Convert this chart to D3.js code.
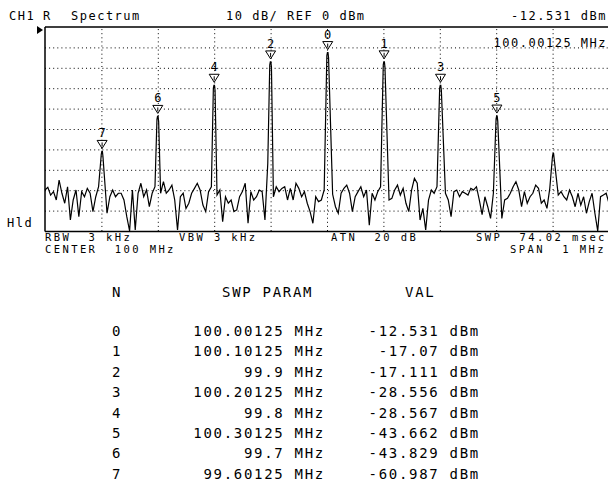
<!DOCTYPE html>
<html><head><meta charset="utf-8">
<script src="https://cdn.jsdelivr.net/npm/d3@7"></script>
<style>
body{margin:0;background:#fff}
svg{display:block}
text{white-space:pre}
.t{font-family:"DejaVu Sans Mono",monospace;font-size:12px;letter-spacing:1.5px;fill:#000}
.ti{font-family:"DejaVu Sans Mono",monospace;font-size:10.5px;letter-spacing:2.4px;fill:#000}
.tb{font-family:"DejaVu Sans Mono",monospace;font-size:14px;letter-spacing:1.7px;fill:#000}
</style></head><body><script>
// ---- data ----
const xTicks = [99.6, 99.7, 99.8, 99.9, 100.0, 100.1, 100.2, 100.3, 100.4];
const yTicks = [-10, -20, -30, -40, -50, -60, -70, -80, -90];
const markerN = [0, 1, 2, 3, 4, 5, 6, 7];
const markerFreq = [100.00125, 100.10125, 99.9, 100.20125, 99.8, 100.30125, 99.7, 99.60125];
const markerVal = [-12.531, -17.07, -17.111, -28.556, -28.567, -43.662, -43.829, -60.987];
const spurFreq = [100.40125];
const spurVal = [-62];
// noise floor read every 5 kHz from 99.5 to 100.5 MHz
const noiseDbm = [
-79.9,-78.6,-82.4,-80.7,-84.8,-75.0,-81.5,-86.4,-78.3,-94.6,
-84.8,-79.9,-93.0,-80.7,-83.2,-79.1,-81.5,-90.5,-83.2,-78.3,
-75.8,-79.9,-91.3,-83.2,-79.9,-83.2,-81.5,-81.5,-84.8,-93.0,
-100,-79.9,-99.5,-81.5,-76.6,-83.2,-79.9,-88.1,-81.5,-78.3,
-70.1,-81.5,-75.8,-81.5,-79.9,-77.5,-84.8,-99.5,-83.2,-81.5,
-89.0,-86.4,-81.5,-79.1,-76.6,-79.9,-87.3,-90.5,-80.7,-78.3,
-72.0,-82.4,-79.9,-95.4,-83.2,-86.4,-84.8,-90.5,-89.7,-83.2,
-80.7,-76.6,-96.2,-80.7,-84.8,-83.2,-79.9,-80.7,-94.6,-66.8,
-70.0,-83.2,-78.3,-80.7,-79.1,-78.3,-84.8,-79.1,-84.8,-76.6,
-79.1,-83.2,-80.7,-86.4,-90.5,-96.2,-83.2,-85.6,-84.8,-79.9,
-75.0,-76.6,-82.0,-88.1,-91.3,-81.5,-79.1,-77.5,-81.5,-90.5,
-83.2,-80.7,-78.3,-83.2,-79.9,-97.1,-81.5,-84.8,-80.7,-78.3,
-72.0,-81.5,-84.8,-84.0,-79.9,-77.5,-82.4,-79.1,-86.4,-90.5,
-79.9,-74.2,-76.6,-94.6,-88.9,-99.5,-84.8,-79.9,-81.5,-78.3,
-74.0,-79.9,-81.5,-84.8,-93.0,-80.7,-79.9,-83.2,-80.7,-81.5,
-82.4,-79.1,-79.9,-78.3,-84.8,-92.0,-83.2,-88.1,-93.8,-81.5,
-80.0,-88.1,-93.8,-84.8,-84.0,-81.5,-78.3,-75.8,-79.9,-88.1,
-80.7,-86.4,-83.2,-81.5,-77.5,-79.1,-86.4,-84.8,-88.9,-79.1,
-78.0,-70.1,-82.4,-80.7,-83.2,-84.8,-79.9,-83.2,-88.1,-81.5,
-87.3,-83.2,-91.3,-85.6,-81.5,-91.3,-100,-83.2,-82.4,-81.5,
-86.4];
const headerLeft = ["CH1", "R", "Spectrum"];
const headerMid = "10 dB/ REF 0 dBm";
const headerRight = "-12.531 dBm";
const activeFreq = "100.00125 MHz";
const tableHead = ["N", "SWP PARAM", "VAL"];

// ---- layout ----
const W = 608, H = 485;
const svg = d3.select("body").append("svg").attr("width", W).attr("height", H);
const x = d3.scaleLinear().domain([99.5, 100.5]).range([45, 609]);
const y = d3.scaleLinear().domain([0, -100]).range([27, 231]).clamp(true);

// grid
const gx = svg.append("g").attr("transform", "translate(0,231)")
  .call(d3.axisBottom(x).tickValues(xTicks).tickSize(-204).tickFormat(""));
const gy = svg.append("g").attr("transform", "translate(45,0)")
  .call(d3.axisLeft(y).tickValues(yTicks).tickSize(-564).tickFormat(""));
[gx, gy].forEach(g => {
  g.select(".domain").remove();
  g.selectAll(".tick line").attr("stroke", "#000").attr("stroke-width", 1)
    .attr("stroke-dasharray", "1,3.1");
});

// trace
const sigF = markerFreq.concat(spurFreq), sigL = markerVal.concat(spurVal);
let pts = [];
noiseDbm.forEach((v, i) => {
  const f = 99.5 + i * 0.005;
  if (sigF.every(s => Math.abs(s - f) > 0.004)) pts.push([f, v]);
});
sigF.forEach((f, k) => {
  const L = sigL[k];
  pts.push([f - 0.0015, L - 1.5], [f - 0.0005, L], [f + 0.0005, L], [f + 0.0015, L - 2.5]);
});
pts.sort((a, b) => a[0] - b[0]);
svg.append("path").datum(pts)
  .attr("d", d3.line().x(d => x(d[0])).y(d => y(d[1])))
  .attr("fill", "none").attr("stroke", "#000").attr("stroke-width", 1.2)
  .attr("stroke-linejoin", "miter");

// frame
svg.append("path").attr("d", "M45,27H608M45,27V231.5M45,231.5H608")
  .attr("fill", "none").attr("stroke", "#000").attr("stroke-width", 1.5);
svg.append("path").attr("d", "M37,26L43,30L37,34Z").attr("fill", "#000");

// markers
const mk = svg.append("g").selectAll("g").data(markerN).join("g")
  .attr("transform", (d, i) => `translate(${x(markerFreq[i])},${y(markerVal[i]) - 3})`);
mk.append("path").attr("d", "M-5,-8L5,-8L0,0Z").attr("fill", "#fff")
  .attr("stroke", "#000").attr("stroke-width", 1);
mk.append("path").attr("d", "M0,-6V-2").attr("stroke", "#000").attr("stroke-width", 1);
mk.append("text").attr("class", "t").attr("text-anchor", "middle")
  .attr("y", -11).style("letter-spacing", "0px").text(d => d);

// header text
svg.append("text").attr("class", "t").attr("x", 9).attr("y", 20).text(headerLeft[0]);
svg.append("text").attr("class", "t").attr("x", 43).attr("y", 20).text(headerLeft[1]);
svg.append("text").attr("class", "t").attr("x", 71).attr("y", 20).text(headerLeft[2]);
svg.append("text").attr("class", "t").attr("x", 226).attr("y", 20).text(headerMid);
svg.append("text").attr("class", "t").attr("x", 607).attr("y", 20).attr("text-anchor", "end").text(headerRight);
svg.append("text").attr("class", "t").attr("x", 607).attr("y", 47).attr("text-anchor", "end").text(activeFreq);
svg.append("text").attr("class", "t").attr("x", 7).attr("y", 227).text("Hld");

// bottom info
const info = [["RBW  3 kHz", 45, 240.5], ["VBW 3 kHz", 179, 240.5], ["ATN  20 dB", 331, 240.5],
  ["SWP  74.02 msec", 476, 240.5], ["CENTER  100 MHz", 45, 252.5], ["SPAN  1 MHz", 510, 252.5]];
svg.append("g").selectAll("text").data(info).join("text").attr("class", "ti")
  .attr("x", d => d[1]).attr("y", d => d[2]).text(d => d[0]);

// table
svg.append("text").attr("class", "tb").attr("x", 112).attr("y", 297).text(tableHead[0]);
svg.append("text").attr("class", "tb").attr("x", 222).attr("y", 297).text(tableHead[1]);
svg.append("text").attr("class", "tb").attr("x", 405).attr("y", 297).text(tableHead[2]);
const rows = svg.append("g").selectAll("g").data(markerN).join("g")
  .attr("transform", (d, i) => `translate(0,${336 + i * 20.4})`);
rows.append("text").attr("class", "tb").attr("x", 112).text(d => d);
rows.append("text").attr("class", "tb").attr("x", 325).attr("text-anchor", "end")
  .text((d, i) => `${markerFreq[i]} MHz`);
rows.append("text").attr("class", "tb").attr("x", 480).attr("text-anchor", "end")
  .text((d, i) => `${markerVal[i]} dBm`);
</script></body></html>
